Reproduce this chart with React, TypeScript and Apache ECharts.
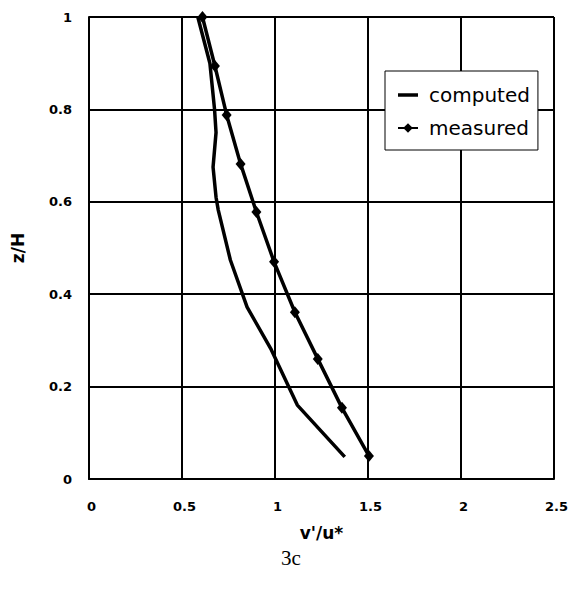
import React, { useEffect, useRef } from "react";
import * as echarts from "echarts";

const computedX = [1.375, 1.12, 0.98, 0.85, 0.76, 0.695, 0.683, 0.667, 0.683, 0.675, 0.65, 0.585];
const computedY = [0.048, 0.16, 0.28, 0.372, 0.474, 0.582, 0.61, 0.675, 0.75, 0.8, 0.9, 1.0];
const measuredX = [1.505, 1.36, 1.23, 1.107, 0.995, 0.9, 0.815, 0.74, 0.677, 0.61];
const measuredY = [0.05, 0.154, 0.26, 0.361, 0.47, 0.578, 0.682, 0.788, 0.894, 1.0];
const seriesNames = ["computed", "measured"];
const xTitle = "v'/u*";
const yTitle = "z/H";
const caption = "3c";

export default function App() {
  const ref = useRef<HTMLDivElement>(null);
  useEffect(() => {
    if (!ref.current) return;
    const chart = echarts.init(ref.current, null, { renderer: "svg" });
    const labelFont = { fontFamily: "DejaVu Sans", fontWeight: "bold" as const, fontSize: 13, color: "#000" };
    chart.setOption({
      animation: false,
      backgroundColor: "#fff",
      grid: { left: 89, top: 17, right: 18, bottom: 114 },
      legend: {
        data: [
          { name: seriesNames[0], icon: "path://M0,0H20V3.5H0Z" },
          { name: seriesNames[1] },
        ],
        orient: "vertical",
        left: 385,
        top: 71,
        padding: [13, 8, 11, 12],
        itemWidth: 20,
        itemHeight: 12,
        itemGap: 11,
        backgroundColor: "#fff",
        borderColor: "#000",
        borderWidth: 1,
        borderRadius: 0,
        textStyle: { fontFamily: "DejaVu Sans", fontSize: 20, color: "#000", lineHeight: 22, padding: [0, 0, 0, 6] },
      },
      xAxis: {
        type: "value",
        min: 0,
        max: 2.5,
        interval: 0.5,
        name: xTitle,
        nameLocation: "middle",
        nameGap: 45,
        nameTextStyle: { fontFamily: "DejaVu Sans", fontWeight: "bold", fontSize: 17, color: "#000" },
        axisLine: { show: true, lineStyle: { color: "#000", width: 2 } },
        axisTick: { show: false },
        axisLabel: { ...labelFont, margin: 21, padding: [0, 0, 0, 5] },
        splitLine: { show: true, lineStyle: { color: "#000", width: 2 } },
      },
      yAxis: {
        type: "value",
        min: 0,
        max: 1,
        interval: 0.2,
        name: yTitle,
        nameLocation: "middle",
        nameGap: 63,
        nameRotate: 90,
        nameTextStyle: { fontFamily: "DejaVu Sans", fontWeight: "bold", fontSize: 17, color: "#000" },
        axisLine: { show: true, lineStyle: { color: "#000", width: 2 } },
        axisTick: { show: false },
        axisLabel: { ...labelFont, margin: 17 },
        splitLine: { show: true, lineStyle: { color: "#000", width: 2 } },
      },
      series: [
        {
          name: seriesNames[0],
          type: "line",
          data: computedX.map((x, i) => [x, computedY[i]]),
          symbol: "none",
          lineStyle: { color: "#000", width: 3.5 },
          itemStyle: { color: "#000" },
          clip: false,
        },
        {
          name: seriesNames[1],
          type: "line",
          data: measuredX.map((x, i) => [x, measuredY[i]]),
          symbol: "diamond",
          symbolSize: [10, 12],
          lineStyle: { color: "#000", width: 3.5 },
          itemStyle: { color: "#000" },
          clip: false,
        },
      ],
      graphic: [
        {
          type: "text",
          left: 281,
          top: 547,
          style: { text: caption, font: "21px 'Liberation Serif'", fill: "#000" },
        },
      ],
    });
    return () => chart.dispose();
  }, []);
  return <div ref={ref} style={{ position: "fixed", left: 0, top: 0, width: 572, height: 593 }} />;
}
